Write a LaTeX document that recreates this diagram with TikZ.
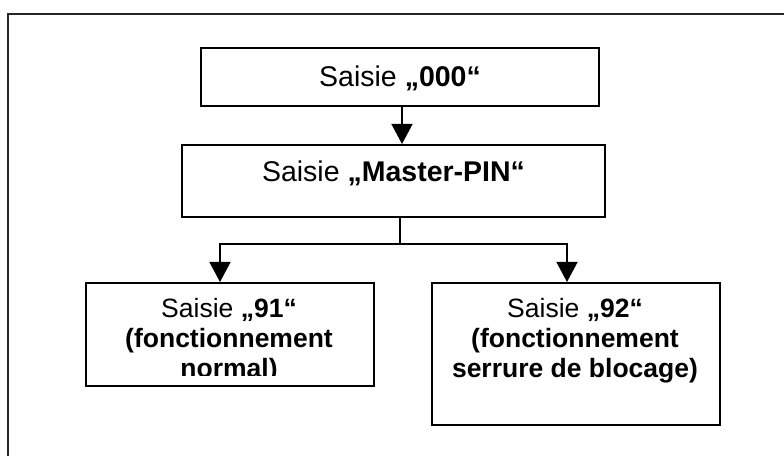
\documentclass[tikz,border=0pt]{standalone}
\usepackage{fontspec}
\setmainfont{Liberation Sans}
\usetikzlibrary{arrows.meta}
\tikzset{
  boxnode/.style={draw=black, line width=2bp, minimum width=#1, inner sep=0pt},
  toptext/.style={font=\fontsize{28.5bp}{32bp}\selectfont, anchor=base, inner sep=0pt},
  lowtext/.style={font=\fontsize{26.5bp}{30bp}\selectfont, anchor=base, inner sep=0pt},
  conn/.style={line width=1.4bp, draw=black},
  arr/.style={conn, -{Triangle[width=21bp,length=20bp]}},
  frameline/.style={line width=2.4bp, draw=black!85}
}
\begin{document}
\begin{tikzpicture}[x=1bp,y=-1bp]
\useasboundingbox (0,0) rectangle (784,456);
% outer frame (clipped at right and bottom)
\coordinate (fbl) at (8,470);
\coordinate (ftl) at (8,14);
\coordinate (ftr) at (800,14);
\draw[frameline] (fbl) -- (ftl) -- (ftr);
% boxes
\node[boxnode=398bp, minimum height=58bp] (b1) at (400,77) {};
\node[boxnode=423bp, minimum height=72bp] (b2) at (393.5,181) {};
\node[boxnode=288bp, minimum height=103bp] (b3) at (230,334.5) {};
\node[boxnode=288bp, minimum height=142bp] (b4) at (576,354) {};
% texts
\node[toptext] (t1) at (400,87) {Saisie \textbf{„000“}};
\node[toptext] (t2) at (393.5,182) {Saisie \textbf{„Master-PIN“}};
\begin{scope}
\clip (87,284) rectangle (373,375);
\node[lowtext] (t3a) at (229,318) {Saisie \textbf{„91“}};
\node[lowtext] (t3b) at (229,348) {\textbf{(fonctionnement}};
\node[lowtext] (t3c) at (229,378) {\textbf{normal)}};
\end{scope}
\node[lowtext] (t4a) at (575,318) {Saisie \textbf{„92“}};
\node[lowtext] (t4b) at (575,348) {\textbf{(fonctionnement}};
\node[lowtext] (t4c) at (575,378) {\textbf{serrure de blocage)}};
% connectors
\coordinate (a1) at (402,0);
\draw[arr] (b1.south -| a1) -- (b2.north -| a1);
\coordinate (split) at (400,244);
\coordinate (lx) at (220,0);
\coordinate (rx) at (567,0);
\draw[conn] (b2.south -| split) -- (split);
\draw[arr] (split) -| (b3.north -| lx);
\draw[arr] (split) -| (b4.north -| rx);
\end{tikzpicture}
\end{document}
